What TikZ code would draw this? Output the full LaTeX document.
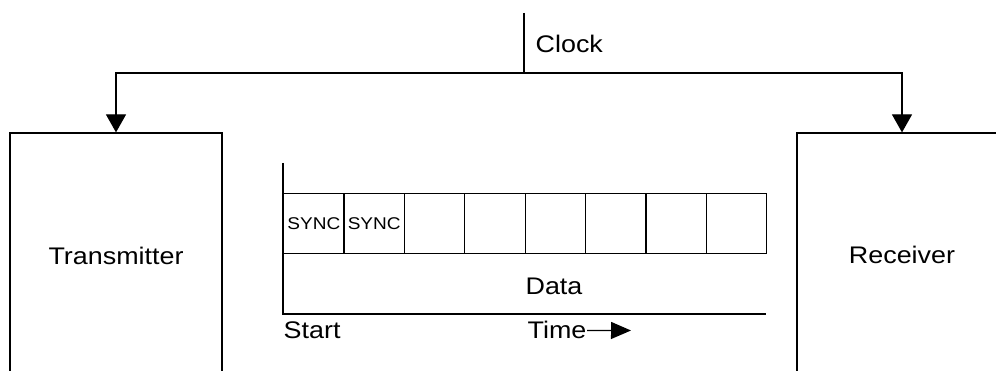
\documentclass[tikz,border=0pt]{standalone}
\usepackage{fontspec}
\setmainfont[FakeStretch=1.12]{Liberation Sans}
\usetikzlibrary{arrows.meta, positioning}

\begin{document}
\begin{tikzpicture}[x=1pt, y=1pt,
    unit/.style={rectangle, draw=black, line width=1.2pt, minimum width=212pt, minimum height=246pt, align=center, font=\fontsize{24}{28}\selectfont},
    cell/.style={rectangle, draw=black, line width=1.2pt, minimum width=60.4pt, minimum height=60pt, inner sep=0pt, anchor=south west, font=\fontsize{17}{20}\selectfont},
    label/.style={inner sep=0.5pt, font=\fontsize{24}{28}\selectfont},
    arrow/.style={-{Triangle[length=18pt, width=20pt]}, line width=1.2pt},
    wire/.style={line width=1.2pt}]

    \useasboundingbox (0,0) rectangle (996,371);
    \clip (0,0) rectangle (996,371);

    \node[unit] (xmit) at (116,115) {Transmitter};
    \node[unit, minimum width=210pt, minimum height=243pt] (recv) at (902,116.5) {Receiver};

    % clock line
    \coordinate (clk) at (524,358);
    \coordinate (split) at (524,298);
    \node[label, anchor=base west] (clock) at (535,318) {Clock};
    \draw[wire] (clk) -- (split);
    \draw[arrow] (split) -| (xmit.north);
    \draw[arrow] (split) -| (recv.north);

    % frame of the data stream
    \foreach \i/\txt in {1/SYNC, 2/SYNC, 3/, 4/, 5/, 6/, 7/, 8/}
        \node[cell] (cell\i) at ({283+(\i-1)*60.4},117) {\txt};

    \coordinate (axtop) at (283,208);
    \coordinate (axorg) at (283,57);
    \coordinate (axend) at (766,57);
    \draw[wire] (axtop) -- (axorg) -- (axend);

    \node[label] (data) at (554,85) {Data};
    \node[label, anchor=base west] (start) at (283,32) {Start};
    \node[label, anchor=base west] (time) at (527,32) {Time};
    \coordinate (timeend) at (631,40.5);
    \draw[-{Triangle[length=20pt, width=17pt]}, line width=1.2pt] (time.east) -- (timeend);
\end{tikzpicture}
\end{document}
